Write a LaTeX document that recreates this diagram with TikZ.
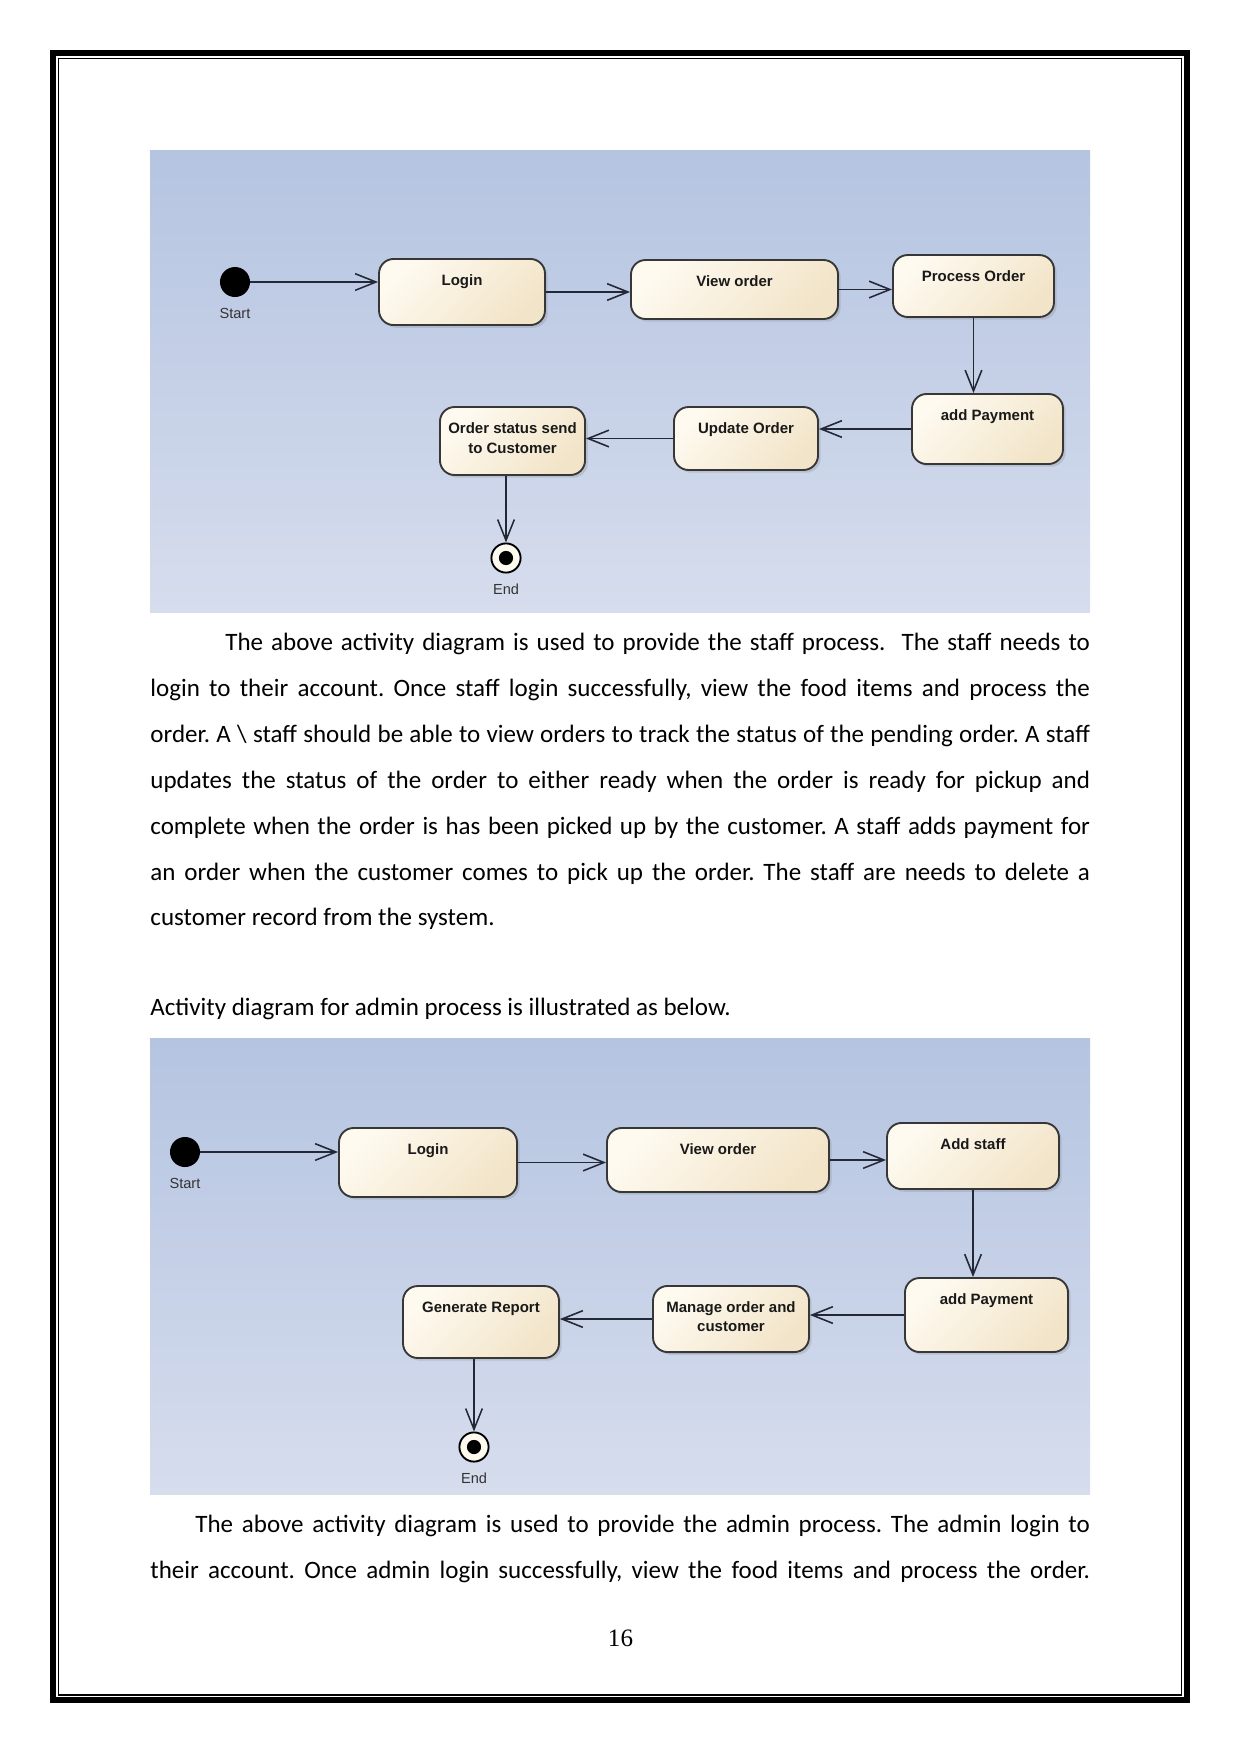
\documentclass[tikz,border=0pt]{standalone}
\usepackage{fontspec}
\setmainfont{Carlito}
\newfontfamily\diafont{Liberation Sans}
\newfontfamily\numfont{Liberation Serif}
\usetikzlibrary{arrows.meta,positioning,shadows}
\frenchspacing

\definecolor{bgtop}{RGB}{181,196,225}
\definecolor{bgbot}{RGB}{214,221,237}
\definecolor{actlight}{RGB}{254,250,240}
\definecolor{actdark}{RGB}{242,228,200}
\definecolor{actline}{RGB}{55,55,55}
\definecolor{flowc}{RGB}{35,40,55}

% one justified line of body text
\newcommand{\jl}[2]{\makebox[#1][s]{#2}}

\begin{document}
\begin{tikzpicture}[
  x=0.47968pt, y=-0.47968pt,
  font=\fontsize{12}{14}\selectfont, >={Straight Barb[length=10pt,width=8pt]},
  body/.style={anchor=base west, inner sep=0pt},
  act/.style={rectangle, rounded corners=7pt, draw=actline, line width=0.9pt, inner sep=0pt,
              left color=actlight, right color=actdark, shading angle=45,
              drop shadow={shadow xshift=1.3pt, shadow yshift=-1.3pt, opacity=0.25}},
  acttxt/.style={anchor=north, yshift=-7.7pt, inner sep=0pt, align=center,
                 font=\diafont\bfseries\fontsize{7.2}{9.4}\selectfont, text=black!90},
  init/.style={circle, fill=black, minimum size=14.4pt, inner sep=0pt},
  fin/.style={circle, draw=black, line width=0.9pt, fill=actlight, minimum size=14pt, inner sep=0pt,
              path picture={\fill[black] (path picture bounding box.center) circle (3.4pt);}},
  lab/.style={inner sep=0pt, label distance=5pt, font=\diafont\fontsize{7}{8}\selectfont, text=black!80},
  flow/.style={->, draw=flowc, line width=0.75pt},
]
\useasboundingbox (0,0) rectangle (1241,1754);

% page frame
\draw[line width=2.9pt] (53,53) rectangle (1187,1700);
\draw[line width=0.6pt] (58.5,58.5) rectangle (1181.5,1695);

% Diagram 1: staff process
\shade[top color=bgtop, bottom color=bgbot] (150,150) rectangle (1090,612);
\node[init, label={[lab]below:Start}] (start1) at (235,282) {};
\node[act, minimum width=79.6pt, minimum height=31.7pt, label={[acttxt]north:Login}] (login1) at (462,292) {};
\node[act, minimum width=99.3pt, minimum height=28.3pt, label={[acttxt]north:View order}] (view1) at (734.5,289.5) {};
\node[act, minimum width=77.2pt, minimum height=29.7pt, label={[acttxt]north:Process Order}] (process1) at (973.5,286) {};
\node[act, minimum width=72.4pt, minimum height=33.6pt, label={[acttxt]north:add Payment}] (pay1) at (987.5,429) {};
\node[act, minimum width=69.1pt, minimum height=30.2pt, label={[acttxt]north:Update Order}] (update1) at (746,438.5) {};
\node[act, minimum width=69.6pt, minimum height=32.6pt, label={[acttxt]north:Order status send\\to Customer}] (status1) at (512.5,441) {};
\node[fin, label={[lab]below:End}] (end1) at (506,558) {};
\draw[flow] (start1) -- (start1 -| login1.west);
\draw[flow] (login1) -- (login1 -| view1.west);
\draw[flow] (view1) -- (view1 -| process1.west);
\draw[flow] (process1) -- (process1 |- pay1.north);
\draw[flow] (pay1) -- (pay1 -| update1.east);
\draw[flow] (update1) -- (update1 -| status1.east);
\draw[flow] (status1.south -| end1) -- (end1);

% text about the staff diagram
\node[body] (staffA) at (225,650) {\jl{414.7pt}{The above activity diagram is used to provide the staff process.\ \ The staff needs to}};
\node[body] (staffB) at (150,696) {\jl{450.7pt}{login to their account. Once staff login successfully, view the food items and process the}};
\node[body] (staffC) at (150,742) {\jl{450.7pt}{order. A \textbackslash\ staff should be able to view orders to track the status of the pending order. A staff}};
\node[body] (staffD) at (150,788) {\jl{450.7pt}{updates the status of the order to either ready when the order is ready for pickup and}};
\node[body] (staffE) at (150,834) {\jl{450.7pt}{complete when the order is has been picked up by the customer. A staff adds payment for}};
\node[body] (staffF) at (150,880) {\jl{450.7pt}{an order when the customer comes to pick up the order. The staff are needs to delete a}};
\node[body] (staffG) at (150,925) {customer record from the system.};
\node[body] (adminIntro) at (150,1015) {Activity diagram for admin process is illustrated as below.};

% Diagram 2: admin process
\shade[top color=bgtop, bottom color=bgbot] (150,1038) rectangle (1090,1494);
\node[init, label={[lab]below:Start}] (start2) at (185,1152) {};
\node[act, minimum width=85.4pt, minimum height=33.1pt, label={[acttxt]north:Login}] (login2) at (428,1162.5) {};
\node[act, minimum width=106.5pt, minimum height=30.7pt, label={[acttxt]north:View order}] (view2) at (718,1160) {};
\node[act, minimum width=82.5pt, minimum height=31.7pt, label={[acttxt]north:Add staff}] (staff2) at (973,1156) {};
\node[act, minimum width=78.2pt, minimum height=35.5pt, label={[acttxt]north:add Payment}] (pay2) at (986.5,1315) {};
\node[act, minimum width=74.8pt, minimum height=31.7pt, label={[acttxt]north:Manage order and\\customer}] (manage2) at (731,1319) {};
\node[act, minimum width=74.8pt, minimum height=34.5pt, label={[acttxt]north:Generate Report}] (report2) at (481,1322) {};
\node[fin, label={[lab]below:End}] (end2) at (474,1447) {};
\draw[flow] (start2) -- (start2 -| login2.west);
\draw[flow] (login2) -- (login2 -| view2.west);
\draw[flow] (view2) -- (view2 -| staff2.west);
\draw[flow] (staff2) -- (staff2 |- pay2.north);
\draw[flow] (pay2) -- (pay2 -| manage2.east);
\draw[flow] (manage2) -- (manage2 -| report2.east);
\draw[flow] (report2.south -| end2) -- (end2);

% text about the admin diagram
\node[body] (adminA) at (195,1532) {\jl{429.1pt}{The above activity diagram is used to provide the admin process. The admin login to}};
\node[body] (adminB) at (150,1578) {\jl{450.7pt}{their account. Once admin login successfully, view the food items and process the order.}};
\node[body, anchor=base, font=\numfont\fontsize{12}{14}\selectfont] (pageno) at (620.5,1646) {16};
\end{tikzpicture}
\end{document}
